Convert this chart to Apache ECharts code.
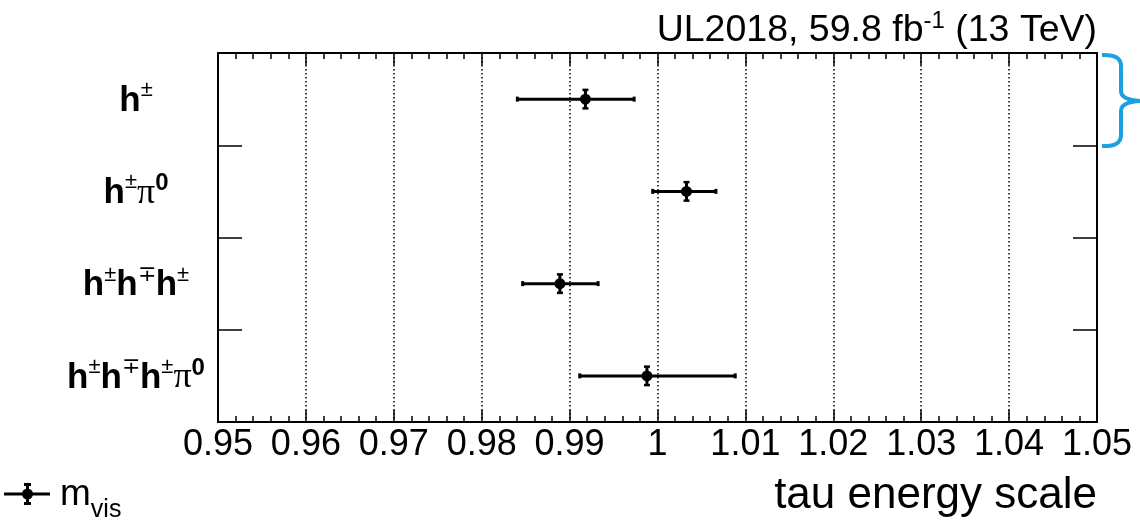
<!DOCTYPE html>
<html>
<head>
<meta charset="utf-8">
<script src="https://cdn.jsdelivr.net/npm/echarts@6/dist/echarts.min.js"></script>
<style>
html,body{margin:0;padding:0;background:#fff;}
#chart{width:1140px;height:526px;}
</style>
</head>
<body>
<div id="chart"></div>
<script>
// ---- data ----
const categories = ['h±', 'h±π0', 'h±h∓h±', 'h±h∓h±π0'];
const central    = [0.9918, 1.0033, 0.9889, 0.9988];
const errLow     = [0.9840, 0.9994, 0.9846, 0.9911];
const errHigh    = [0.9974, 1.0067, 0.9933, 1.0089];
const xMin = 0.95, xMax = 1.05, xStep = 0.01;
const seriesName = 'm_vis';
const titleText = 'UL2018, 59.8 fb{sup|-1} (13 TeV)';
const xAxisTitle = 'tau energy scale';

const FONT = 'Liberation Sans, Arial, Helvetica, sans-serif';

function toRich(s) {
  let out = '';
  for (const ch of s) {
    if (ch === 'h') out += '{b|h}';
    else if (ch === '±' || ch === '∓') out += '{s|' + ch + '}';
    else if (ch === 'π') out += '{p|π}';
    else if (ch === '0') out += '{z|0}';
    else out += '{b|' + ch + '}';
  }
  return out;
}

const data = categories.map((c, i) => [central[i], i, errLow[i], errHigh[i]]);

const chart = echarts.init(document.getElementById('chart'), null, {renderer: 'canvas'});

const tickCommon = {
  axisLine: {show: true, onZero: false, lineStyle: {color: '#000', width: 2}},
  axisTick: {show: true, inside: true, length: 12, lineStyle: {color: '#000', width: 1.5}},
  minorTick: {show: true, splitNumber: 5, length: 6, lineStyle: {color: '#000', width: 1.5}}
};

const braceStyle = {stroke: '#1ba1e2', lineWidth: 4, fill: null};

const option = {
  backgroundColor: '#fff',
  animation: false,
  title: {
    text: titleText,
    right: 43,
    top: 9,
    padding: 0,
    textStyle: {
      fontFamily: FONT, fontSize: 37.5, fontWeight: 'normal', color: '#000', lineHeight: 44,
      rich: {
        sup: {fontFamily: FONT, fontSize: 24, color: '#000', lineHeight: 24, verticalAlign: 'top'}
      }
    }
  },
  legend: {
    left: 4,
    top: 476,
    padding: 0,
    itemWidth: 46,
    itemHeight: 22,
    data: [{
      name: seriesName,
      icon: 'path://M0,10.5H46V13.5H0Z M22,2H25V22H22Z M20,1H27V4H20Z M20,20H27V23H20Z M18,12A5.5,5.5,0,1,1,29,12A5.5,5.5,0,1,1,18,12Z',
      itemStyle: {color: '#000'}
    }],
    formatter: () => '{m|m}{v|vis}',
    textStyle: {
      color: '#000',
      rich: {
        m: {fontFamily: FONT, fontSize: 37, color: '#000', lineHeight: 36, verticalAlign: 'top', padding: [0, 0, 0, 5]},
        v: {fontFamily: FONT, fontSize: 25, color: '#000', lineHeight: 24, verticalAlign: 'top', padding: [22, 0, 0, 0]}
      }
    }
  },
  grid: {left: 218, right: 43, top: 53, bottom: 104, show: false, containLabel: false, outerBoundsMode: 'none'},
  xAxis: [
    Object.assign({
      type: 'value', position: 'bottom', min: xMin, max: xMax, interval: xStep,
      axisLabel: {show: true, margin: 5, fontFamily: FONT, fontSize: 36, color: '#000', lineHeight: 36,
        showMinLabel: true, showMaxLabel: true, hideOverlap: false,
        formatter: v => String(+v.toFixed(2))},
      splitLine: {show: true, lineStyle: {color: '#000', width: 1.5, type: [1.5, 2.5]}}
    }, tickCommon),
    Object.assign({
      type: 'value', position: 'top', min: xMin, max: xMax, interval: xStep,
      axisLabel: {show: false}, splitLine: {show: false}
    }, tickCommon)
  ],
  yAxis: [
    {
      type: 'category', position: 'left', data: categories, inverse: true,
      axisLine: {show: true, lineStyle: {color: '#000', width: 2}},
      axisTick: {show: true, inside: true, length: 24, interval: 0, lineStyle: {color: '#000', width: 1.5}},
      axisLabel: {
        show: true, interval: 0, margin: 82, align: 'center',
        formatter: v => toRich(v),
        rich: {
          b: {fontFamily: FONT, fontSize: 35, fontWeight: 'bold', color: '#000', lineHeight: 44, padding: [4, 0, 0, 0]},
          s: {fontFamily: FONT, fontSize: 22, color: '#000', lineHeight: 24, verticalAlign: 'top', padding: [2, 0, 0, 0]},
          p: {fontFamily: 'Liberation Serif, DejaVu Serif, serif', fontSize: 36, color: '#000', lineHeight: 44, padding: [4, 0, 0, 0]},
          z: {fontFamily: FONT, fontSize: 24, fontWeight: 'bold', color: '#000', lineHeight: 26, verticalAlign: 'top', padding: [2, 0, 0, 0]}
        }
      },
      splitLine: {show: false}
    },
    {
      type: 'category', position: 'right', data: categories, inverse: true,
      axisLine: {show: true, lineStyle: {color: '#000', width: 2}},
      axisTick: {show: true, inside: true, length: 24, interval: 0, lineStyle: {color: '#000', width: 1.5}},
      axisLabel: {show: false},
      splitLine: {show: false}
    }
  ],
  series: [{
    name: seriesName,
    type: 'custom',
    xAxisIndex: 0,
    yAxisIndex: 0,
    data: data,
    encode: {x: [0, 2, 3], y: 1},
    renderItem: function (params, api) {
      const c = api.coord([api.value(0), api.value(1)]);
      const lo = api.coord([api.value(2), api.value(1)]);
      const hi = api.coord([api.value(3), api.value(1)]);
      const y = c[1];
      const vh = 9.5;      // vertical marker half height (px)
      const st = {stroke: '#000', lineWidth: 3};
      return {
        type: 'group',
        children: [
          {type: 'line', shape: {x1: lo[0], y1: y, x2: hi[0], y2: y}, style: st},
          {type: 'rect', shape: {x: lo[0] - 1, y: y - 2.5, width: 3, height: 5}, style: {fill: '#000'}},
          {type: 'rect', shape: {x: hi[0] - 2, y: y - 2.5, width: 3, height: 5}, style: {fill: '#000'}},
          {type: 'line', shape: {x1: c[0], y1: y - vh, x2: c[0], y2: y + vh}, style: st},
          {type: 'rect', shape: {x: c[0] - 3, y: y - vh - 1, width: 6, height: 2.5}, style: {fill: '#000'}},
          {type: 'rect', shape: {x: c[0] - 3, y: y + vh - 1.5, width: 6, height: 2.5}, style: {fill: '#000'}},
          {type: 'circle', shape: {cx: c[0], cy: y, r: 5.5}, style: {fill: '#000'}}
        ]
      };
    },
    z: 10
  }],
  graphic: [
    {type: 'text', right: 43, top: 474, silent: true,
     style: {text: xAxisTitle, fontFamily: FONT, fontSize: 44, fill: '#000'}},
    {type: 'bezierCurve', shape: {x1: 1102, y1: 55, cpx1: 1121, cpy1: 54, x2: 1121, y2: 66}, style: braceStyle, silent: true},
    {type: 'line', shape: {x1: 1121, y1: 66, x2: 1121, y2: 91}, style: braceStyle, silent: true},
    {type: 'bezierCurve', shape: {x1: 1121, y1: 91, cpx1: 1121, cpy1: 100, x2: 1141, y2: 101}, style: braceStyle, silent: true},
    {type: 'bezierCurve', shape: {x1: 1141, y1: 101, cpx1: 1121, cpy1: 102, x2: 1121, y2: 111}, style: braceStyle, silent: true},
    {type: 'line', shape: {x1: 1121, y1: 111, x2: 1121, y2: 135}, style: braceStyle, silent: true},
    {type: 'bezierCurve', shape: {x1: 1121, y1: 135, cpx1: 1121, cpy1: 147, x2: 1102, y2: 146}, style: braceStyle, silent: true}
  ]
};

chart.setOption(option);
</script>
</body>
</html>
